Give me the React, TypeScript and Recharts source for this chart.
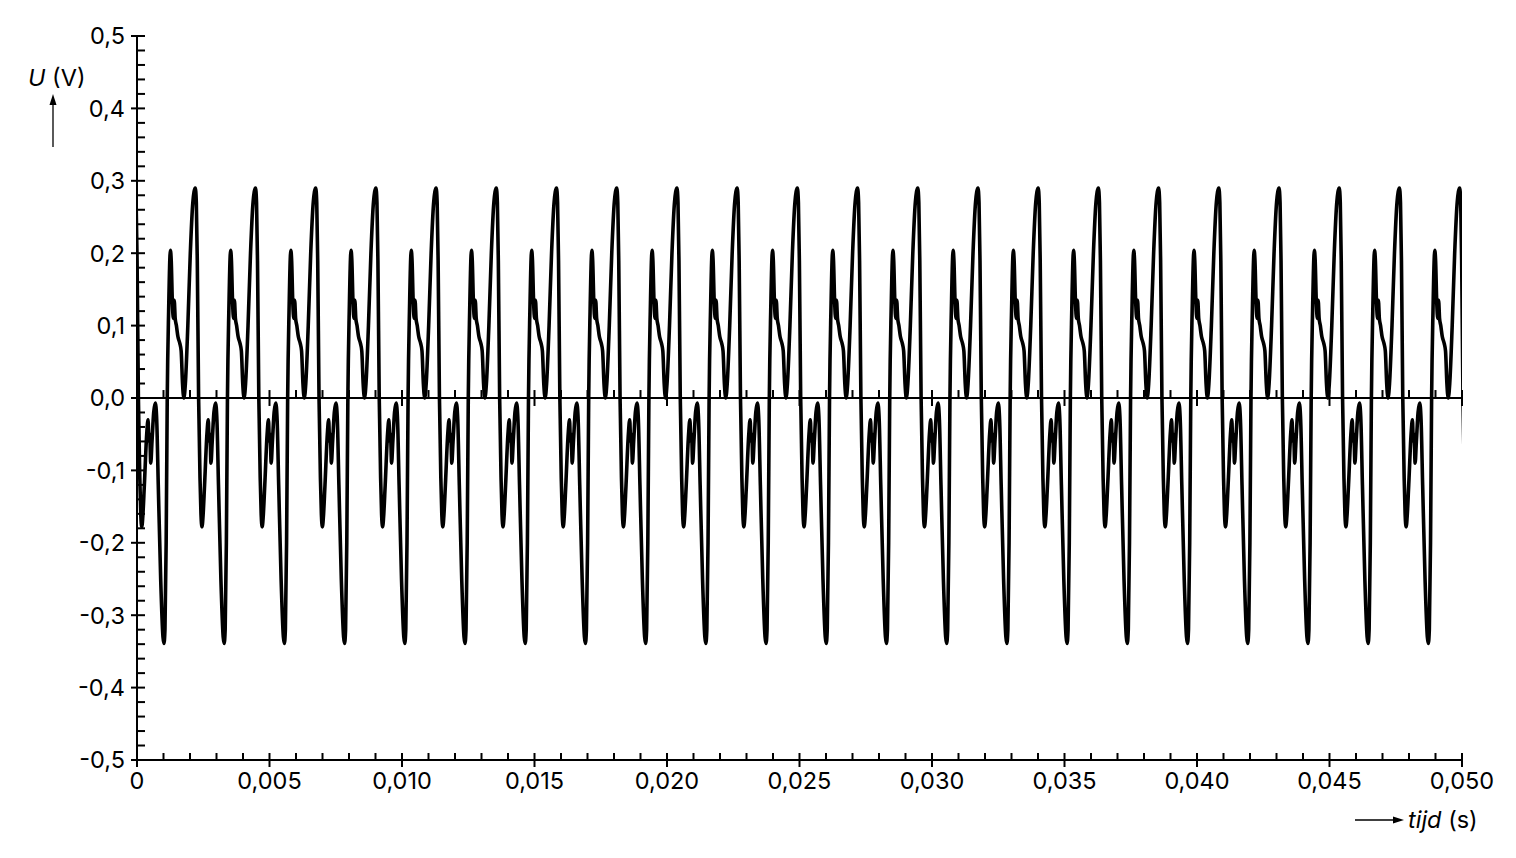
import React from "react";
import { LineChart, Line, XAxis, YAxis, ReferenceLine } from "recharts";

// One cycle of the waveform: phase within the period
// (0 = the tall 0,29 V peak) and voltage in V.
const CYCLE_PHASE = [
  0.0, 0.017, 0.033, 0.055, 0.078, 0.094, 0.111, 0.127, 0.154, 0.193, 0.215,
  0.231, 0.243, 0.26, 0.281, 0.309, 0.336, 0.359, 0.385, 0.425, 0.463, 0.479,
  0.496, 0.516, 0.534, 0.557, 0.587, 0.6, 0.62, 0.636, 0.65, 0.666, 0.686,
  0.711, 0.744, 0.765, 0.788, 0.81, 0.835, 0.876, 0.917, 0.959,
];
const CYCLE_U = [
  0.29, 0.27, 0.19, 0.0, -0.11, -0.16, -0.178, -0.165, -0.12, -0.05, -0.03,
  -0.06, -0.05, -0.09, -0.06, -0.02, -0.007, -0.03, -0.12, -0.25, -0.33,
  -0.339, -0.32, -0.2, 0.0, 0.12, 0.204, 0.19, 0.13, 0.11, 0.135, 0.11, 0.1,
  0.085, 0.075, 0.065, 0.02, 0.0, 0.02, 0.1, 0.2, 0.27,
];

// period and position of the first tall peak
const PERIOD = 0.002272; // s
const FIRST_PEAK = 0.0022; // s
const CYCLES = 22;

const X_LABELS = [
  "0", "0,005", "0,010", "0,015", "0,020", "0,025",
  "0,030", "0,035", "0,040", "0,045", "0,050",
];
const Y_LABELS = [
  "-0,5", "-0,4", "-0,3", "-0,2", "-0,1", "0,0", "0,1", "0,2", "0,3", "0,4", "0,5",
];

// minor ticks every 0.001 s and every 0.02 V
const X_TICKS = Array.from({ length: 51 }, (_, i) => i / 1000);
const Y_TICKS = Array.from({ length: 51 }, (_, i) => Math.round((i * 0.02 - 0.5) * 100) / 100);
const ZERO_TICKS = X_TICKS.slice(1);

const data: { t: number; u: number }[] = [];
for (let k = -1; k <= CYCLES; k++) {
  CYCLE_PHASE.forEach((p, i) => {
    const t = FIRST_PEAK + (k + p) * PERIOD;
    if (t > -0.0004 && t < 0.0504) data.push({ t, u: CYCLE_U[i] });
  });
}

const FONT = "Inter, Roboto, 'Liberation Sans', sans-serif";
const FS = 23.5;

const XTick = (props: any) => {
  const { x, y, payload } = props;
  const ms = Math.round(payload.value * 1000);
  const major = ms % 5 === 0;
  return (
    <g>
      <line x1={x} x2={x} y1={y - 7} y2={y + (major ? 7 : 0)} stroke="#000" strokeWidth={2} />
      {major && (
        <text x={x} y={y + 29} textAnchor="middle" fontSize={FS} fontFamily={FONT} fill="#000">
          {X_LABELS[ms / 5]}
        </text>
      )}
    </g>
  );
};

const YTick = (props: any) => {
  const { x, y, payload } = props;
  const tenths = Math.round(payload.value * 100);
  const major = tenths % 10 === 0;
  return (
    <g>
      <line x1={x - (major ? 6 : 0)} x2={x + 8} y1={y} y2={y} stroke="#000" strokeWidth={2} />
      {major && (
        <text x={x - 12} y={y} dy="0.36em" textAnchor="end" fontSize={FS} fontFamily={FONT} fill="#000">
          {Y_LABELS[tenths / 10 + 5]}
        </text>
      )}
    </g>
  );
};

export default function App() {
  return (
    <div style={{ position: "relative", width: 1500, height: 842 }}>
      <LineChart
        width={1500}
        height={842}
        data={data}
        margin={{ top: 28, right: 46, bottom: 40, left: 0 }}
      >
        <XAxis
          dataKey="t"
          type="number"
          domain={[0, 0.05]}
          allowDataOverflow
          ticks={X_TICKS}
          interval={0}
          tick={<XTick />}
          tickLine={false}
          tickSize={0}
          tickMargin={0}
          height={50}
          axisLine={{ stroke: "#000", strokeWidth: 2 }}
        />
        <YAxis
          type="number"
          domain={[-0.5, 0.5]}
          allowDataOverflow
          ticks={Y_TICKS}
          interval={0}
          tick={<YTick />}
          tickLine={false}
          tickSize={0}
          tickMargin={0}
          width={129}
          axisLine={{ stroke: "#000", strokeWidth: 2 }}
        />
        <ReferenceLine y={0} stroke="#000" strokeWidth={2} />
        {ZERO_TICKS.map((v) => {
          const major = Math.round(v * 1000) % 5 === 0;
          return (
            <ReferenceLine
              key={v}
              segment={[
                { x: v, y: major ? -0.011 : 0 },
                { x: v, y: 0.011 },
              ]}
              stroke="#000"
              strokeWidth={2}
            />
          );
        })}
        <Line
          dataKey="u"
          type="monotone"
          stroke="#000"
          strokeWidth={3.6}
          dot={false}
          isAnimationActive={false}
        />
      </LineChart>
      <svg
        width={1500}
        height={842}
        style={{ position: "absolute", left: 0, top: 0, pointerEvents: "none" }}
        fontFamily={FONT}
        fontSize={FS}
      >
        <text x={20} y={78} fill="#000">
          <tspan fontStyle="italic">U</tspan> (V)
        </text>
        <line x1={45} x2={45} y1={139} y2={96} stroke="#000" strokeWidth={1.3} />
        <polygon points="45,86 41.5,97 48.5,97" fill="#000" />
        <line x1={1347} x2={1386} y1={812} y2={812} stroke="#000" strokeWidth={1.3} />
        <polygon points="1396,812 1385,808.5 1385,815.5" fill="#000" />
        <text x={1400} y={820} fill="#000">
          <tspan fontStyle="italic">tijd</tspan> (s)
        </text>
      </svg>
    </div>
  );
}
